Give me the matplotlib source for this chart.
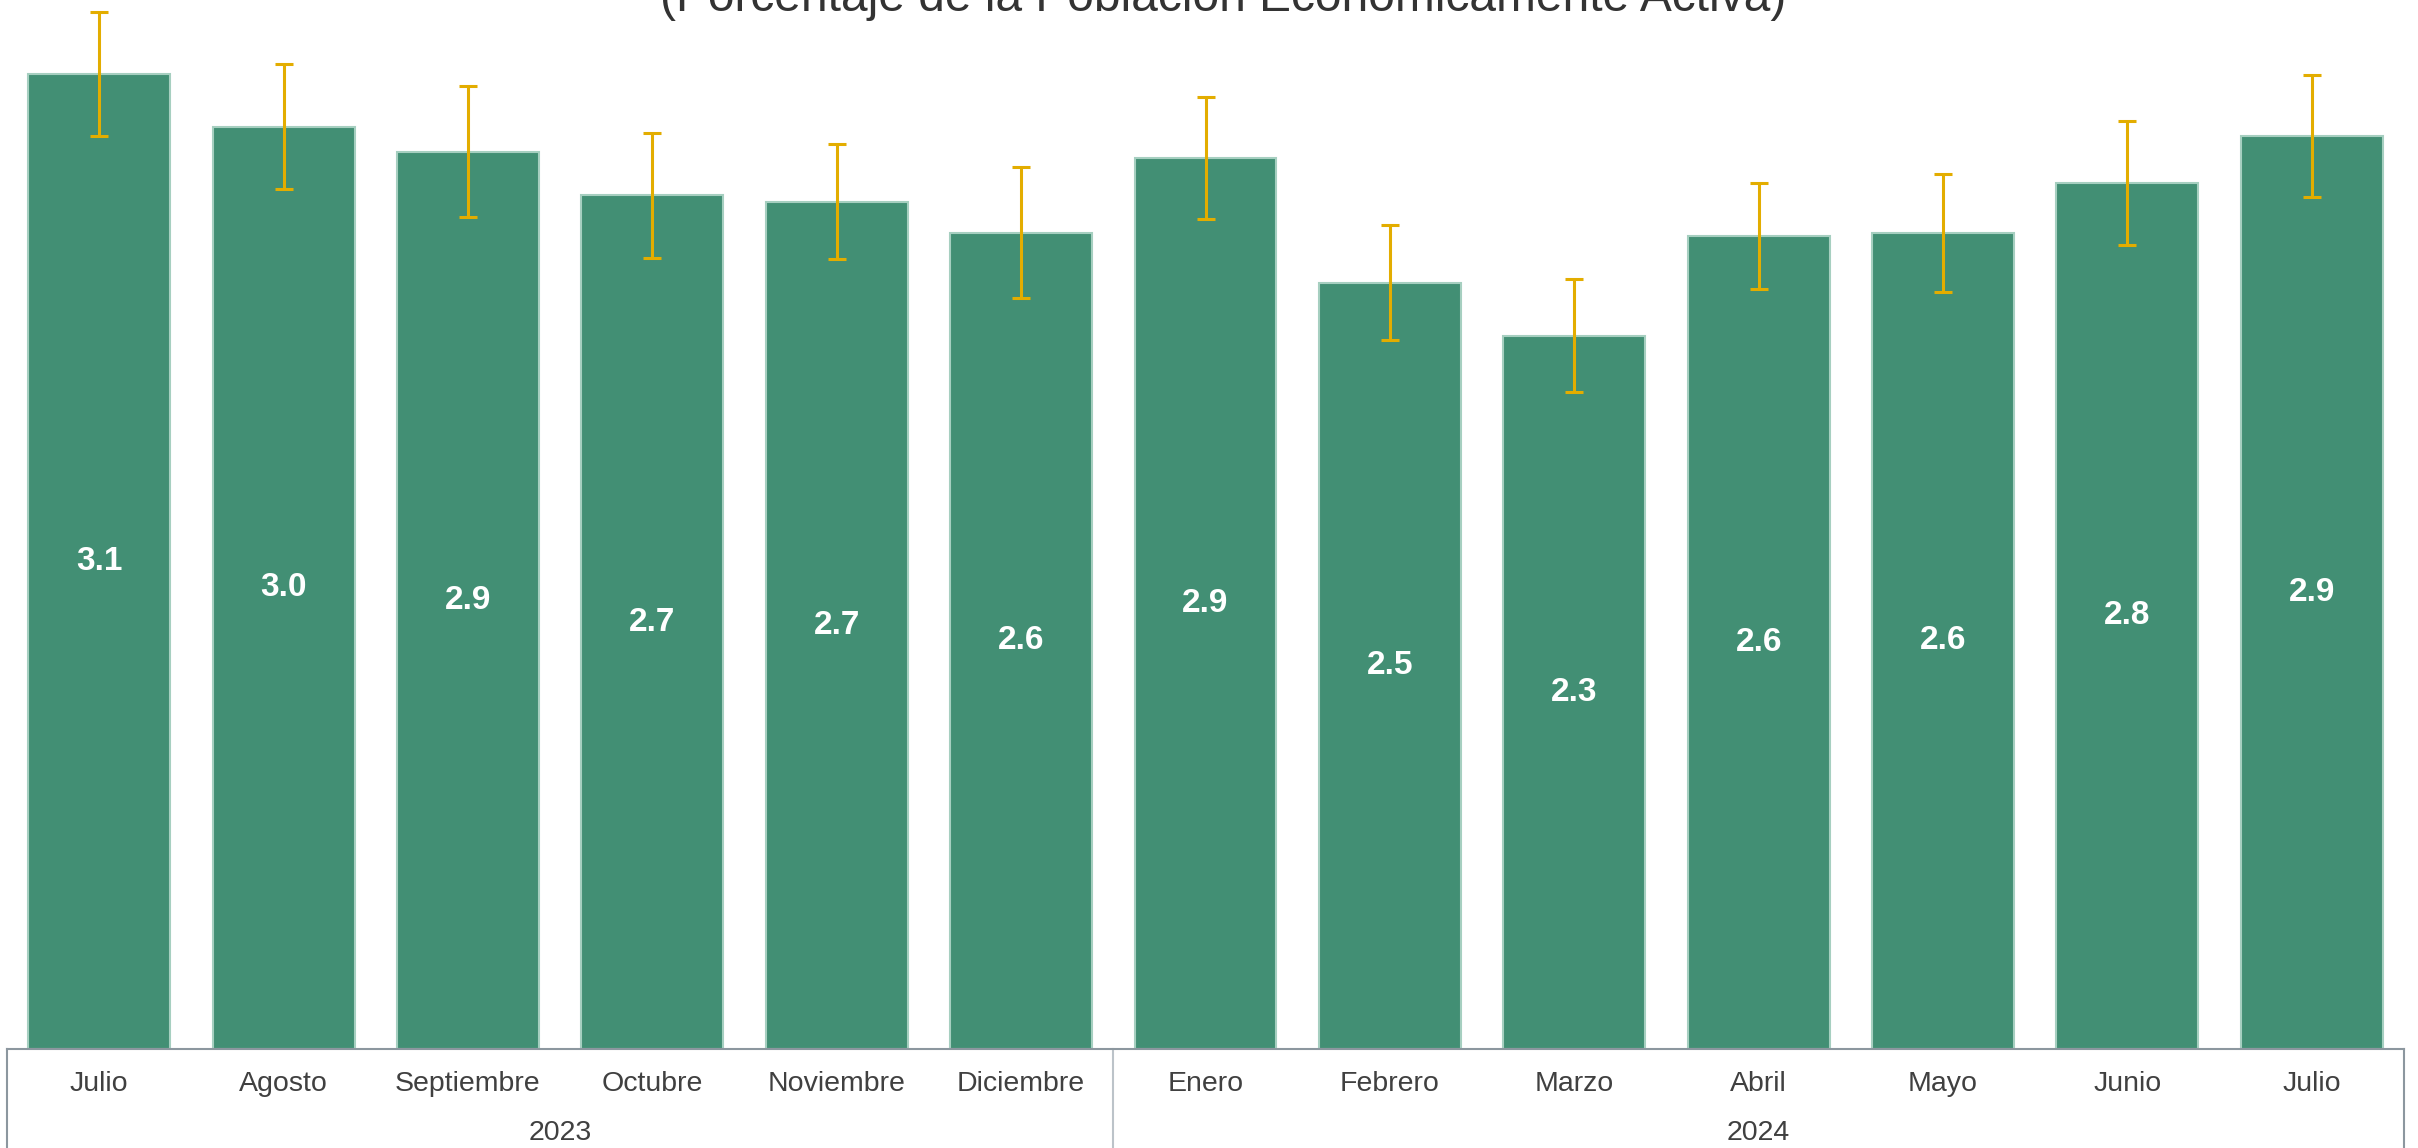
import matplotlib.pyplot as plt
from matplotlib.transforms import blended_transform_factory

plt.rcParams['font.family'] = ['Liberation Sans', 'DejaVu Sans']

# data
months = ['Julio', 'Agosto', 'Septiembre', 'Octubre', 'Noviembre', 'Diciembre',
          'Enero', 'Febrero', 'Marzo', 'Abril', 'Mayo', 'Junio', 'Julio']
years = ['2023', '2024']
year_counts = [6, 7]
values = [3.13, 2.96, 2.88, 2.74, 2.72, 2.62, 2.86, 2.46, 2.29, 2.61, 2.62, 2.78, 2.93]
errors = [0.20, 0.20, 0.21, 0.20, 0.185, 0.21, 0.195, 0.185, 0.18, 0.17, 0.19, 0.20, 0.195]
subtitle = '(Porcentaje de la Población Económicamente Activa)'

W, H = 2418, 1148
fig = plt.figure(figsize=(W / 100, H / 100), dpi=100)
left_px, right_px, base_px = 7, 2404, 1049
ax = fig.add_axes([left_px / W, 1 - base_px / H, (right_px - left_px) / W, base_px / H])

x = list(range(len(values)))
ax.bar(x, values, width=0.77, color='#428F74', edgecolor='#A6CFC0', linewidth=1.5, zorder=2)
ax.errorbar(x, values, yerr=errors, fmt='none', ecolor='#E3AD00', elinewidth=2.2,
            capsize=6.5, capthick=2.2, zorder=3)

for xi, v in zip(x, values):
    ax.text(xi, v / 2, f'{v:.1f}', ha='center', va='center', color='white',
            fontsize=24, fontweight='bold', zorder=4)

ax.set_xlim(-0.5, len(values) - 0.5)
ax.set_ylim(0, 3.367)
ax.set_xticks([])
ax.set_yticks([])
for s in ['top', 'left', 'right']:
    ax.spines[s].set_visible(False)
ax.spines['bottom'].set_color('#8C979F')
ax.spines['bottom'].set_linewidth(1.5)

# category axis as a grouped table below the bars
tr = blended_transform_factory(ax.transData, fig.transFigure)
for xi, m in zip(x, months):
    ax.text(xi, 1 - 1084 / H, m, transform=tr, ha='center', va='center',
            fontsize=20.5, color='#404040')

start = 0
for yr, n in zip(years, year_counts):
    mid = start + (n - 1) / 2
    ax.text(mid, 1 - 1133 / H, yr, transform=tr, ha='center', va='center',
            fontsize=20.5, color='#404040')
    start += n

bottom_y = 0
base_y = 1 - base_px / H
ax.plot([-0.5, -0.5], [base_y, bottom_y], transform=tr, color='#8C979F', lw=1.5, clip_on=False)
ax.plot([len(values) - 0.5] * 2, [base_y, bottom_y], transform=tr, color='#8C979F', lw=1.5, clip_on=False)
ax.plot([year_counts[0] - 0.5] * 2, [base_y, bottom_y], transform=tr, color='#BCC3C9', lw=1.5, clip_on=False)

fig.text(0.506, 1 - 11 / H, subtitle, ha='center', va='baseline', fontsize=34.5, color='#333333')

fig.savefig('out.png', dpi=100)
